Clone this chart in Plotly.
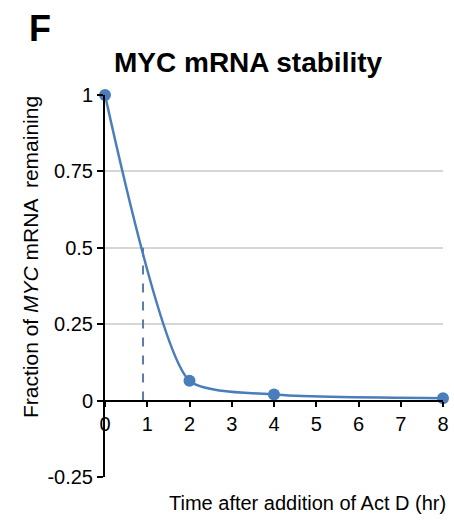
import plotly.graph_objects as go

time_hr = [0, 2, 4, 8]
fraction = [1.0, 0.065, 0.02, 0.008]
half_life_x = [0.9, 0.9]
half_life_y = [0, 0.5]
x_ticks = [0, 1, 2, 3, 4, 5, 6, 7, 8]
y_ticks = [-0.25, 0, 0.25, 0.5, 0.75, 1]
y_ticktext = ["-0.25", "0", "0.25", "0.5", "0.75", "1"]

FONT = "Liberation Sans, Arial, sans-serif"
BLUE = "#4a7ebb"

fig = go.Figure()
fig.add_trace(go.Scatter(
    x=half_life_x, y=half_life_y, mode="lines",
    line=dict(color="#5a7ca6", width=2, dash="dash"),
    showlegend=False, hoverinfo="skip"))
fig.add_trace(go.Scatter(
    x=time_hr, y=fraction, mode="lines+markers",
    line=dict(color=BLUE, width=2.5, shape="spline", smoothing=0.6),
    marker=dict(color=BLUE, size=12),
    cliponaxis=False, showlegend=False))

fig.update_layout(
    width=454, height=523,
    margin=dict(l=105, r=11, t=95, b=46),
    plot_bgcolor="white", paper_bgcolor="white",
    font=dict(family=FONT, color="black", size=20),
    xaxis=dict(range=[0, 8], tickvals=x_ticks, anchor="free", position=0.2,
               showline=True, linecolor="black", linewidth=2,
               ticks="outside", ticklen=5, tickwidth=1.5, tickcolor="black",
               showgrid=False, zeroline=False, automargin=False,
               tickfont=dict(size=20, family=FONT)),
    yaxis=dict(range=[-0.25, 1], tickvals=y_ticks, ticktext=y_ticktext,
               showline=True, linecolor="black", linewidth=2,
               ticks="outside", ticklen=6, tickwidth=1.5, tickcolor="black",
               showgrid=True, gridcolor="#d6d6d6", gridwidth=2,
               zeroline=False, automargin=False,
               tickfont=dict(size=20, family=FONT)),
    annotations=[
        dict(text="<b>F</b>", xref="paper", yref="paper", x=(40 - 105) / 338,
             y=1 + (95 - 28) / 382, xanchor="center", yanchor="middle",
             showarrow=False, font=dict(size=36, family=FONT)),
        dict(text="<b>MYC mRNA stability</b>", xref="paper", yref="paper",
             x=(248 - 105) / 338, y=1 + (95 - 62) / 382,
             xanchor="center", yanchor="middle", showarrow=False,
             font=dict(size=28, family=FONT)),
        dict(text="Fraction of <i>MYC</i> mRNA  remaining", xref="paper",
             yref="paper", x=(30 - 105) / 338, y=1 - (257 - 95) / 382,
             xanchor="center", yanchor="middle", textangle=-90,
             showarrow=False, font=dict(size=21, family=FONT)),
        dict(text="Time after addition of Act D (hr)", xref="paper",
             yref="paper", x=(448 - 105) / 338, y=-(503 - 477) / 382,
             xanchor="right", yanchor="middle", showarrow=False,
             font=dict(size=20, family=FONT)),
    ],
)

fig.write_html(
    "out.html",
    config={"displayModeBar": False},
    post_script="document.body.style.margin='0';document.body.style.overflow='hidden';",
)
